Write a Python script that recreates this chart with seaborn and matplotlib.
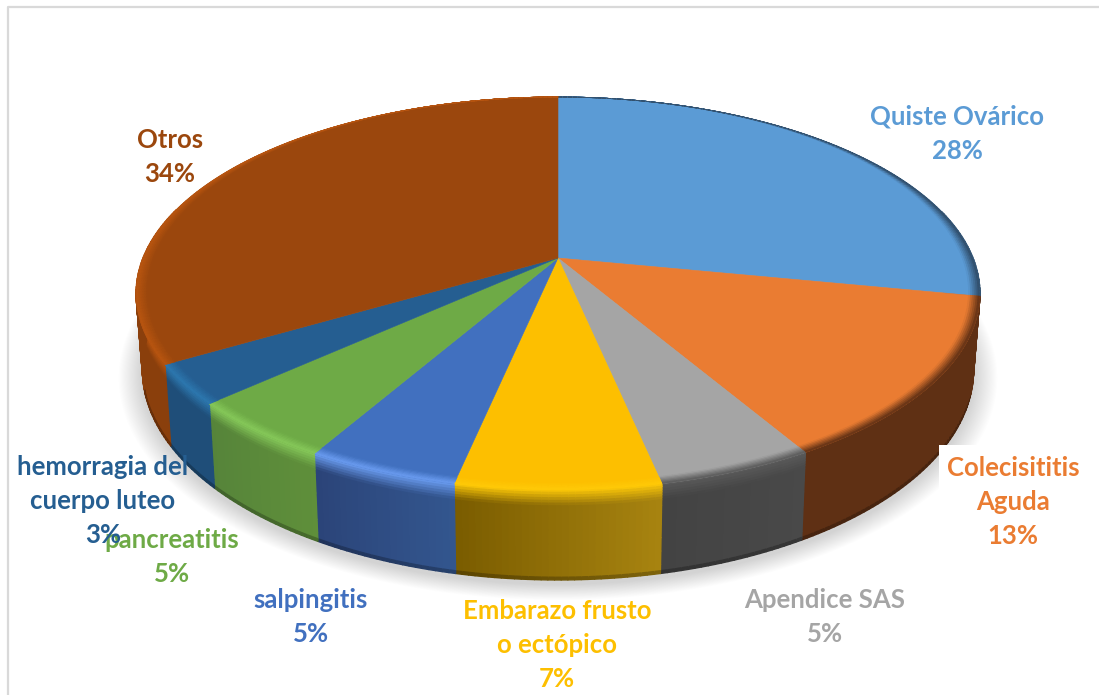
import numpy as np
import matplotlib
matplotlib.use("Agg")
import matplotlib.pyplot as plt
from matplotlib.collections import PolyCollection
from matplotlib.colors import to_rgb
from matplotlib.patches import Rectangle
import seaborn as sns

# Diagnoses, clockwise from twelve o'clock
categorias = ["Quiste Ovárico", "Colecisititis\nAguda", "Apendice SAS", "Embarazo frusto\no ectópico",
              "salpingitis", "pancreatitis", "hemorragia del\ncuerpo luteo", "Otros"]
porcentajes = [28, 13, 5, 7, 5, 5, 3, 34]

colores = sns.color_palette(["#5b9bd5", "#ea7c32", "#a5a5a5", "#fdbf00",
                             "#4170bf", "#6eaa46", "#255e91", "#9b470d"])
# Bright or dark rim where the top meets the wall
bordes = ["#2e4a66", "#5f3014", "#5a5a5a", "#ffca08", "#6a9cf0", "#86c95a", "#2d78b0", "#b85510"]
# Wall shade at the left and right end of each slice
pared_izq = ["#33506e", "#5f3014", "#494949", "#a88410", "#33568f", "#5f8f3a", "#1f4e79", "#8a3f0c"]
pared_der = ["#33506e", "#5f3014", "#434343", "#7a5c00", "#2b4478", "#56843a", "#1f4e79", "#8a3f0c"]

# Where each label's centre sits, in figure pixels
etiqueta_x = [957, 1013, 825, 557, 311, 172, 103, 170]
etiqueta_y = [117, 468, 600, 611, 600, 540, 467, 140]
paso_linea = 34

# Perspective of the tilted disc
CX, CY, A, B, K, ALTO = 558, 258, 415, 190, 0.18, 74
# Small angular correction of the perspective around the disc (degrees)
GIRO_ANG = [0, 90, 101, 148, 166, 191, 209, 227, 238, 360]
GIRO_DEG = [0, 0, 0.4, 2.2, 2.5, 1.1, 0.9, 0.8, 1.8, 0]


def proyectar(theta, r=1.0, prof=0.0):
    theta = np.asarray(theta, dtype=float)
    giro = np.interp(np.degrees(theta), GIRO_ANG, GIRO_DEG)
    t = theta + np.radians(giro)
    sx, sy = r * np.sin(t), -r * np.cos(t)
    w = 1 - K * sy
    x = CX + A * sx / w * (1 - 0.015 * prof)
    y = CY + B * sy / w + ALTO * prof / w
    return x, y


sns.set_theme(style="white")
plt.rcParams["font.family"] = ["Lato", "DejaVu Sans"]

fig = plt.figure(figsize=(10.99, 6.95), dpi=100, facecolor="white")
ax = fig.add_axes([0, 0, 1, 1])
ax.set_xlim(0, 1099)
ax.set_ylim(695, 0)
ax.axis("off")

# Chart frame: only the top and left edges fall inside the canvas
ax.plot([8, 8, 1099], [695, 7, 7], color="#d9d9d9", lw=1.6, zorder=1)

# Soft drop shadow under the disc, built from stacked translucent outlines
t_all = np.linspace(0, 2 * np.pi, 361)
sx0, sy0 = proyectar(t_all, 1.0, 1.0)
for i in range(22, 0, -1):
    f = 1 + i * 0.0026
    ax.fill(CX + (sx0 - CX) * f, CY + 40 + (sy0 - CY - 40) * f + 4,
            color="black", alpha=0.0085, lw=0, zorder=2)

cortes = np.cumsum([0] + porcentajes) / sum(porcentajes) * 2 * np.pi

# Side wall and bevelled rim of every slice, as thin shaded strips
franjas_banda = np.linspace(0, 1, 7)
franjas_prof = np.array([0.0, 0.03, 0.06, 0.09, 0.12, 0.15, 0.18, 0.24, 0.32, 0.45, 0.6, 0.75, 0.9, 0.97, 1.0])

for i, (t0, t1) in enumerate(zip(cortes[:-1], cortes[1:])):
    n = max(8, int((t1 - t0) / np.radians(0.8)))
    th = np.linspace(t0, t1, n + 1)
    top, hl = np.array(colores[i]), np.array(to_rgb(bordes[i]))
    wl, wr = np.array(to_rgb(pared_izq[i])), np.array(to_rgb(pared_der[i]))
    pol_pared, col_pared, pol_banda, col_banda = [], [], [], []

    # slice top
    ax_t = np.linspace(t0, t1, n * 2 + 1)
    xs, ys = proyectar(ax_t)
    ax.fill(np.r_[CX, xs], np.r_[CY, ys], facecolor=top, edgecolor=top, lw=0.4, zorder=4)

    for j in range(n):
        tm = 0.5 * (th[j] + th[j + 1])
        frac = (j + 0.5) / n
        pared = wr * frac + wl * (1 - frac)
        sxm, sym = np.sin(tm), -np.cos(tm)
        # the rim narrows away toward the back of the disc
        fuerza = 1.0 if sym > 0 else abs(sxm) ** 3
        # wall strips only on the side facing the viewer
        if sym > -0.25:
            for d0, d1 in zip(franjas_prof[:-1], franjas_prof[1:]):
                x00, y00 = proyectar(th[j], 1, d0)
                x10, y10 = proyectar(th[j + 1], 1, d0)
                x11, y11 = proyectar(th[j + 1], 1, d1)
                x01, y01 = proyectar(th[j], 1, d1)
                dm = 0.5 * (d0 + d1)
                c = hl + (pared - hl) * min(dm / 0.18, 1)
                # thin dark lip along the front of the base
                if dm > 0.97 and sym > 0.3:
                    c = pared * 0.75
                pol_pared.append([(x00, y00), (x10, y10), (x11, y11), (x01, y01)])
                col_pared.append(c)
        # bevel on the top surface
        ancho = 0.026 * fuerza
        for u0, u1 in zip(franjas_banda[:-1], franjas_banda[1:]):
            r0, r1 = 1 - ancho * (1 - u0), 1 - ancho * (1 - u1)
            x00, y00 = proyectar(th[j], r0)
            x10, y10 = proyectar(th[j + 1], r0)
            x11, y11 = proyectar(th[j + 1], r1)
            x01, y01 = proyectar(th[j], r1)
            um = 0.5 * (u0 + u1)
            pol_banda.append([(x00, y00), (x10, y10), (x11, y11), (x01, y01)])
            col_banda.append(top + (hl - top) * um)

    if pol_pared:
        ax.add_collection(PolyCollection(pol_pared, facecolors=col_pared, edgecolors=col_pared,
                                         linewidths=1.0, zorder=3))
    ax.add_collection(PolyCollection(pol_banda, facecolors=col_banda, edgecolors=col_banda,
                                     linewidths=0.6, zorder=5))

# White backing behind the one label that overlaps the wall
ax.add_patch(Rectangle((939, 445), 146, 60, facecolor="white", edgecolor="none", zorder=6))

# Data labels, name lines then the percentage
for nombre, valor, color, x, y in zip(categorias, porcentajes, colores, etiqueta_x, etiqueta_y):
    lineas = nombre.split("\n") + [f"{valor}%"]
    for k, linea in enumerate(lineas):
        ax.text(x, y + k * paso_linea, linea, color=color, fontsize=18.5, fontweight="bold",
                ha="center", va="center", zorder=7)

fig.savefig("out.png", dpi=100, facecolor="white")
